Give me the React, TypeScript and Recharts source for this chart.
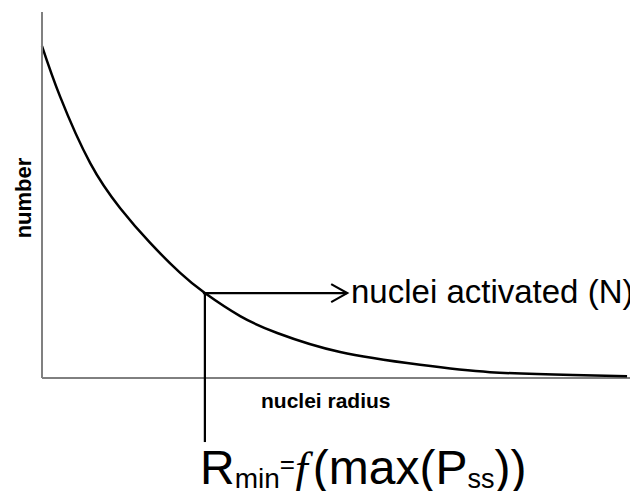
import React from "react";
import { LineChart, Line, XAxis, YAxis, ReferenceLine } from "recharts";

// nuclei radius (relative units) and number (relative units)
const radius = [0, 3.1, 8.2, 13.3, 18.4, 23.5, 27.7, 33.7, 40, 50.7, 64.3, 76.2, 90.3, 99.5];
const number = [90.7, 76.8, 58.7, 46.4, 36.9, 28.7, 23.2, 16.9, 12.3, 7.1, 3.6, 1.6, 0.8, 0.5];

// critical point Rmin and arrow end
const rMin = 27.7;
const nAtRMin = 23.2;
const arrowEnd = 51.9;
const lineBottom = -17.5;

const xLabel = "nuclei radius";
const yLabel = "number";
const arrowLabel = "nuclei activated (N)";

const data = radius.map((r, i) => ({ x: r, y: number[i] }));

const SANS = "'Liberation Sans', Arial, sans-serif";
const SERIF = "'Liberation Serif', 'Times New Roman', serif";

const ArrowShape = (p: any) => {
  const { x1, y1, x2, y2 } = p;
  return (
    <g>
      <line x1={x1 - 2} y1={y1} x2={x2} y2={y2} stroke="#000" strokeWidth={2.2} />
      <polyline
        points={`${x2 - 16},${y2 - 9} ${x2},${y2} ${x2 - 16},${y2 + 9}`}
        fill="none"
        stroke="#000"
        strokeWidth={2.2}
      />
    </g>
  );
};

export default function App() {
  return (
    <div style={{ marginBottom: -8 }}>
      <style>{`.recharts-wrapper, .recharts-surface { overflow: visible !important; }`}</style>
      <LineChart
        width={622}
        height={491}
        data={data}
        margin={{ top: 4, left: 33, right: 0, bottom: 120 }}
      >
        <XAxis
          type="number"
          dataKey="x"
          domain={[0, 100]}
          tick={false}
          tickLine={false}
          height={1}
          axisLine={{ stroke: "#000", strokeWidth: 1 }}
        />
        <YAxis
          type="number"
          domain={[0, 100]}
          tick={false}
          tickLine={false}
          width={1}
          axisLine={{ stroke: "#808080", strokeWidth: 2 }}
        />
        <Line
          type="natural"
          dataKey="y"
          stroke="#000"
          strokeWidth={2.5}
          dot={false}
          isAnimationActive={false}
        />
        <ReferenceLine
          segment={[
            { x: rMin, y: nAtRMin },
            { x: rMin, y: lineBottom },
          ]}
          ifOverflow="visible"
          stroke="#000"
          strokeWidth={2.2}
        />
        <ReferenceLine
          segment={[
            { x: rMin, y: nAtRMin },
            { x: arrowEnd, y: nAtRMin },
          ]}
          ifOverflow="visible"
          shape={ArrowShape}
        />
        <text
          x={23}
          y={190}
          transform="rotate(-90, 23, 190)"
          textAnchor="middle"
          fontFamily={SANS}
          fontWeight="bold"
          fontSize={22}
          fill="#000"
        >
          {yLabel}
        </text>
        <text x={253} y={400} fontFamily={SANS} fontWeight="bold" fontSize={21} fill="#000">
          {xLabel}
        </text>
        <text x={343} y={295} fontFamily={SANS} fontSize={33} fill="#000">
          {arrowLabel}
        </text>
        <text x={192} y={476} fontFamily={SANS} fontSize={48} fill="#000">
          R
          <tspan fontSize={28} dy={4}>min</tspan>
          <tspan fontSize={26} dy={-15}>=</tspan>
          <tspan fontFamily={SERIF} fontStyle="italic" fontSize={46} dy={11}>f</tspan>
          <tspan dx={5}>(max(P</tspan>
          <tspan fontSize={27} dy={4}>ss</tspan>
          <tspan dy={-4}>))</tspan>
        </text>
      </LineChart>
    </div>
  );
}
